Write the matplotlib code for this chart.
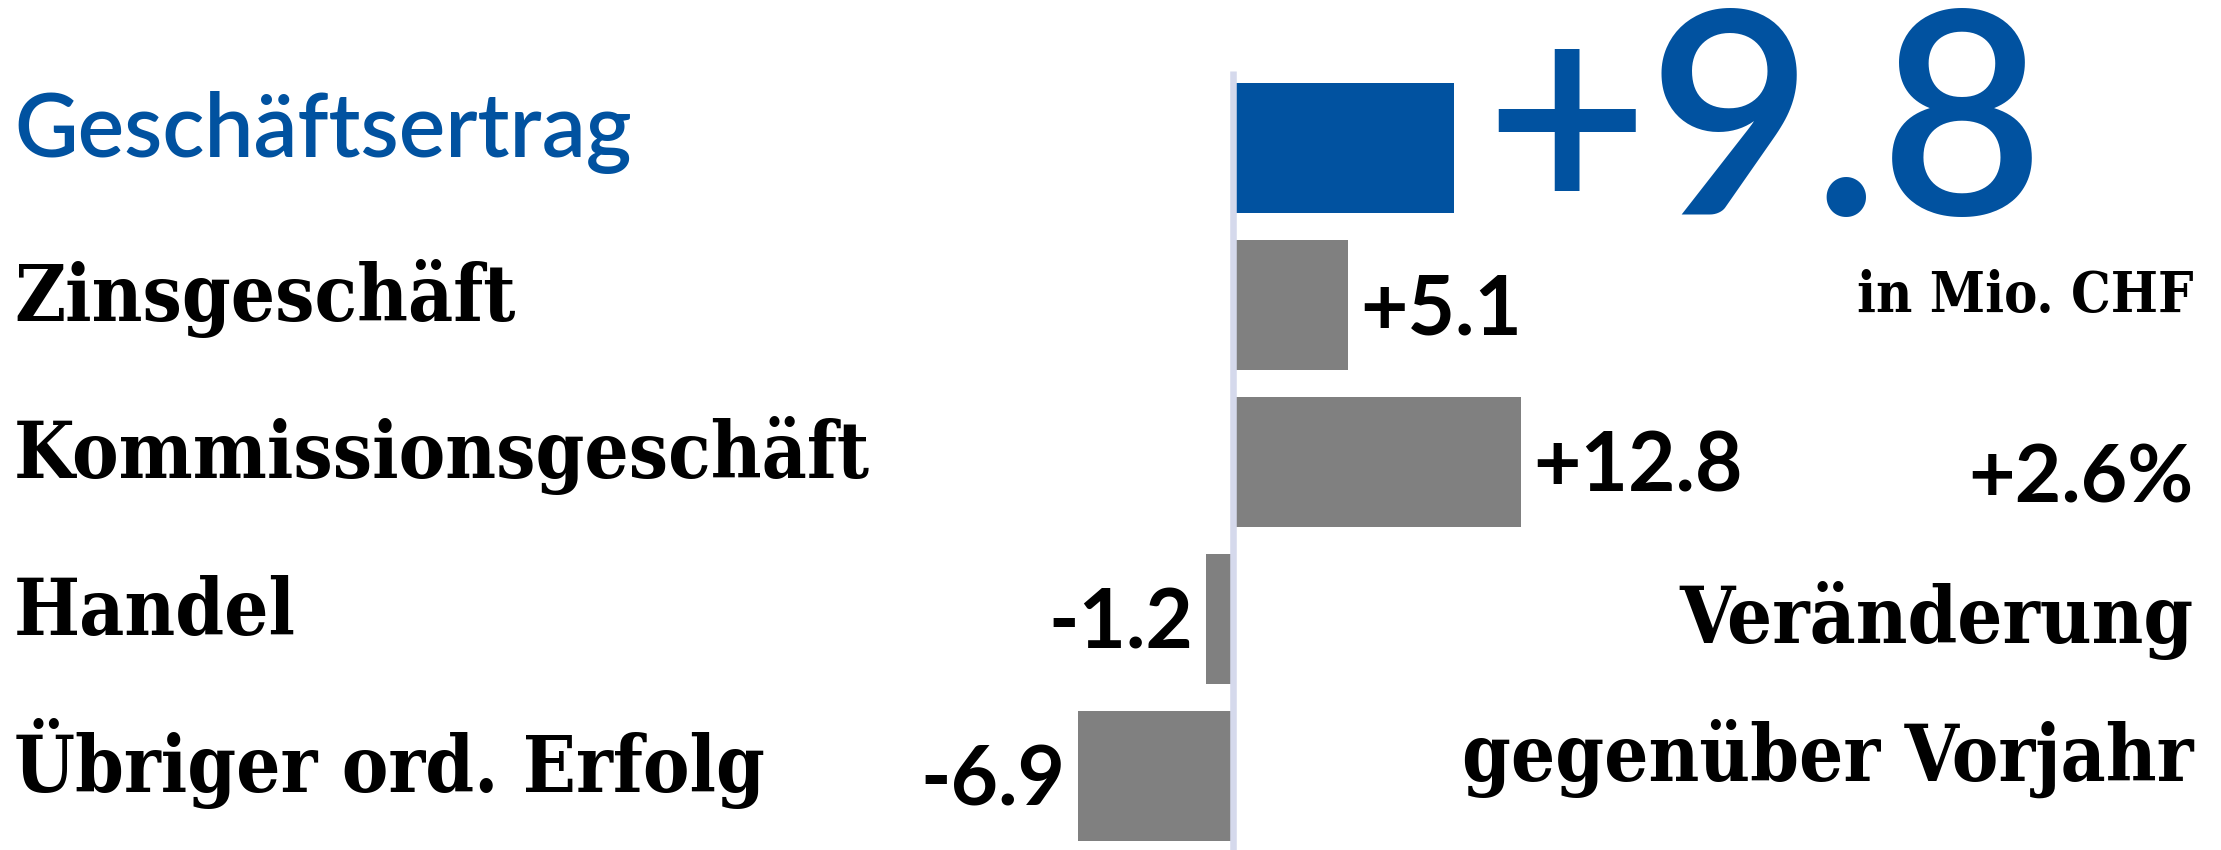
import matplotlib.pyplot as plt

# ------------------------------------------------------------
# DATEN
# ------------------------------------------------------------

kategorien = ["Geschäftsertrag", "Zinsgeschäft", "Kommissionsgeschäft",
              "Handel", "Übriger ord. Erfolg"]
werte = [9.8, 5.1, 12.8, -1.2, -6.9]
wert_labels = ["+9.8", "+5.1", "+12.8", "-1.2", "-6.9"]
einheit = "in Mio. CHF"
veraenderung_prozent = "+2.6%"
untertitel = ["Veränderung", "gegenüber Vorjahr"]

BLAU = "#0152A0"
GRAU = "#808080"
ACHSE = "#D5D9EC"

SERIF = "DejaVu Serif"
SANS = "Lato"

# ------------------------------------------------------------
# FIGUR
# ------------------------------------------------------------

fig = plt.figure(figsize=(22.21, 8.5), dpi=100)
ax = fig.add_axes([0, 0, 1, 1])
ax.set_xlim(-54.8, 43.9)
ax.set_ylim(4.471, -0.943)
ax.axis("off")

ypos = list(range(len(werte)))
farben = [BLAU] + [GRAU] * (len(werte) - 1)
ax.barh(ypos, werte, height=0.83, color=farben, zorder=2)

# Null-Linie
ax.plot([0, 0], [-0.49, 4.471], color=ACHSE, lw=4.7,
        solid_capstyle="butt", zorder=3)

serif_kw = dict(family=SERIF, fontweight="bold", fontstretch="condensed")

# Kategorien links
trans = ax.get_yaxis_transform()
for i, name in enumerate(kategorien):
    if i == 0:
        ax.text(0.0063, i + 0.06, name, transform=trans, ha="left",
                va="baseline", fontsize=63, color=BLAU, family=SANS,
                fontweight="semibold")
    else:
        ax.text(0.0063, i + 0.1, name, transform=trans, ha="left",
                va="baseline", fontsize=56, color="black", **serif_kw)

# Werte an den Balken
for i, (v, lab) in enumerate(zip(werte, wert_labels)):
    if i == 0:
        ax.annotate(lab, xy=(v, i), xytext=(22, -48),
                    textcoords="offset points", ha="left", va="baseline",
                    fontsize=204, color=BLAU, family=SANS,
                    fontweight="semibold")
        continue
    dx = 9 if v > 0 else -9
    ax.annotate(lab, xy=(v, i), xytext=(dx, -21),
                textcoords="offset points",
                ha="left" if v > 0 else "right", va="baseline",
                fontsize=59, color="black", family=SANS, fontweight="bold")

# Texte rechts
fig.text(0.9874, 0.6329, einheit, ha="right", va="baseline",
         fontsize=40, **serif_kw)
fig.text(0.9874, 0.4094, veraenderung_prozent, ha="right", va="baseline",
         fontsize=58, family=SANS, fontweight="bold")
fig.text(0.9874, 0.2435, untertitel[0], ha="right", va="baseline",
         fontsize=57, **serif_kw)
fig.text(0.9874, 0.0812, untertitel[1], ha="right", va="baseline",
         fontsize=56, **serif_kw)

fig.savefig("out.png", dpi=100)
